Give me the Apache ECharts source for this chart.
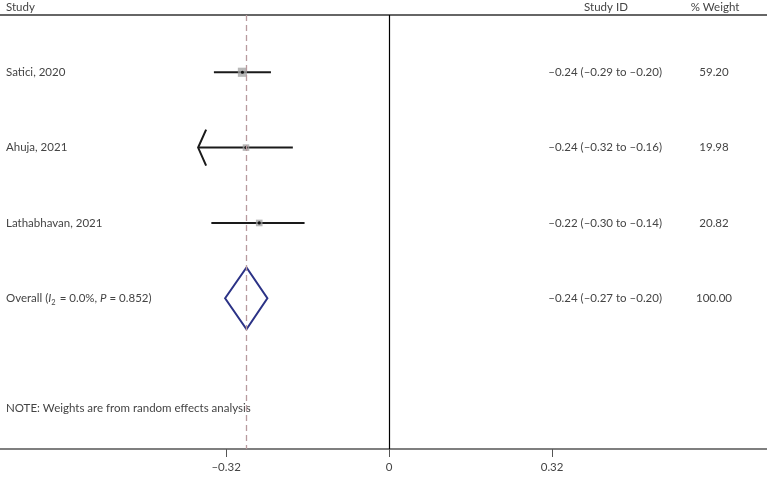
<!DOCTYPE html>
<html>
<head>
<meta charset="utf-8">
<style>
html,body{margin:0;padding:0;background:#fff;}
#chart{width:767px;height:477px;}
</style>
<script src="https://cdn.jsdelivr.net/npm/echarts@6/dist/echarts.min.js"></script>
</head>
<body>
<div id="chart"></div>
<script>
// ---- data ----
const headers = ['Study', 'Study ID', '% Weight'];
const studies = ['Satici, 2020', 'Ahuja, 2021', 'Lathabhavan, 2021'];
const effectTexts = ['–0.24 (–0.29 to –0.20)', '–0.24 (–0.32 to –0.16)', '–0.22 (–0.30 to –0.14)'];
const weightTexts = ['59.20', '19.98', '20.82'];
const weightValues = [59.20, 19.98, 20.82];
const estimates = [-0.288, -0.281, -0.255];
const lowerCI = [-0.344, -0.375, -0.349];
const upperCI = [-0.232, -0.189, -0.166];
const lowerClipped = [0, 1, 0];
const studyRows = [1, 2, 3];

const overallEstimate = -0.280;
const overallLower = -0.322;
const overallUpper = -0.239;
const overallRow = 4;
const overallEffectText = '–0.24 (–0.27 to –0.20)';
const overallWeightText = '100.00';

const noteText = 'NOTE: Weights are from random effects analysis';
const noteRow = 5.46;

const xTickValues = [-0.32, 0, 0.32];
const xTickLabels = ['–0.32', '0', '0.32'];

// ---- styling ----
const FONT = 'Lato';
const FS = 11.5;
const TXT = '#444';

const studyData = studies.map((s, i) => [estimates[i], lowerCI[i], upperCI[i], studyRows[i], weightValues[i], lowerClipped[i]]);

const textRows = [];
studies.forEach((s, i) => textRows.push({ row: studyRows[i], name: s, eff: effectTexts[i], w: weightTexts[i] }));
textRows.push({ row: overallRow, name: 'overall', eff: overallEffectText, w: overallWeightText });
textRows.push({ row: noteRow, name: noteText, eff: '', w: '' });

const chart = echarts.init(document.getElementById('chart'), null, { renderer: 'canvas' });

const xMin = -0.764, xMax = 0.742;

const option = {
  animation: false,
  backgroundColor: '#fff',
  grid: { left: 0, right: 0, top: 15, bottom: 28, containLabel: false },
  xAxis: [{
    type: 'value', min: xMin, max: xMax, position: 'bottom',
    axisLine: { show: true, onZero: false, lineStyle: { color: '#555', width: 1.5 } },
    axisTick: { show: true, customValues: xTickValues, length: 8, lineStyle: { color: '#555', width: 1 } },
    axisLabel: {
      show: true, customValues: xTickValues, margin: 12,
      fontFamily: FONT, fontSize: FS, color: TXT,
      formatter: v => { const k = xTickValues.findIndex(t => Math.abs(t - v) < 1e-9); return k >= 0 ? xTickLabels[k] : ''; }
    },
    splitLine: { show: false }
  }, {
    type: 'value', min: xMin, max: xMax, position: 'top',
    axisLine: { show: true, onZero: false, lineStyle: { color: '#333', width: 1.6 } },
    axisTick: { show: false }, axisLabel: { show: false }, splitLine: { show: false }
  }],
  yAxis: {
    type: 'value', inverse: true, min: 0.24, max: 6.0, show: false
  },
  graphic: [
    { type: 'text', left: 6, top: 1, style: { text: headers[0], fontFamily: FONT, fontSize: FS, fill: TXT } },
    { type: 'text', x: 606, y: 1, style: { text: headers[1], fontFamily: FONT, fontSize: FS, fill: TXT, textAlign: 'center' } },
    { type: 'text', x: 715, y: 1, style: { text: headers[2], fontFamily: FONT, fontSize: FS, fill: TXT, textAlign: 'center' } }
  ],
  series: [
    {
      name: 'zero', type: 'line', data: [], xAxisIndex: 0,
      markLine: {
        silent: true, symbol: 'none', label: { show: false },
        lineStyle: { color: '#000', width: 1.2, type: 'solid' },
        data: [{ xAxis: 0 }]
      }
    },
    {
      name: 'overallLine', type: 'line', data: [], xAxisIndex: 0,
      markLine: {
        silent: true, symbol: 'none', label: { show: false },
        lineStyle: { color: '#b89a9e', width: 1.3, type: [6, 4] },
        data: [{ xAxis: overallEstimate }]
      }
    },
    {
      name: 'studies', type: 'custom', xAxisIndex: 0,
      data: studyData,
      encode: { x: [0, 1, 2], y: 3 },
      renderItem: function (params, api) {
        const y = api.value(3);
        const p = api.coord([api.value(0), y]);
        const l = api.coord([api.value(1), y]);
        const h = api.coord([api.value(2), y]);
        const side = 3 + 0.8 * Math.sqrt(api.value(4));
        const children = [
          { type: 'line', shape: { x1: l[0], y1: l[1], x2: h[0], y2: h[1] }, style: { stroke: '#1a1a1a', lineWidth: 2 } }
        ];
        if (api.value(5)) {
          children.push({ type: 'polyline', shape: { points: [[l[0] + 8, l[1] - 18], [l[0], l[1]], [l[0] + 8, l[1] + 18]] }, style: { stroke: '#1a1a1a', lineWidth: 2, fill: 'none' } });
        }
        children.push({ type: 'rect', shape: { x: p[0] - side / 2, y: p[1] - side / 2, width: side, height: side }, style: { fill: 'rgba(160,160,160,0.75)' } });
        children.push({ type: 'circle', shape: { cx: p[0], cy: p[1], r: 1.6 }, style: { fill: '#111' } });
        return { type: 'group', children: children };
      }
    },
    {
      name: 'overall', type: 'custom', xAxisIndex: 0,
      data: [[overallEstimate, overallLower, overallUpper, overallRow]],
      encode: { x: [0, 1, 2], y: 3 },
      renderItem: function (params, api) {
        const y = api.value(3);
        const c = api.coord([api.value(0), y]);
        const l = api.coord([api.value(1), y]);
        const h = api.coord([api.value(2), y]);
        const hh = api.size([0, 0.41])[1];
        return {
          type: 'polygon',
          shape: { points: [[l[0], c[1]], [c[0], c[1] - hh], [h[0], c[1]], [c[0], c[1] + hh]] },
          style: { stroke: '#2b3286', lineWidth: 2, fill: 'none' }
        };
      }
    },
    {
      name: 'texts', type: 'custom', xAxisIndex: 0,
      data: textRows.map(r => [0, r.row]),
      encode: { y: 1 },
      renderItem: function (params, api) {
        const r = textRows[params.dataIndex];
        const yy = api.coord([0, api.value(1)])[1];
        const children = [];
        if (r.name === 'overall') {
          children.push({
            type: 'text', x: 6, y: yy,
            style: {
              text: '{n|Overall (}{i|I}{s|2}{n| = 0.0%, }{i|P}{n| = 0.852)}',
              verticalAlign: 'middle', textAlign: 'left',
              rich: {
                n: { fontFamily: FONT, fontSize: FS, fill: TXT, lineHeight: 16 },
                i: { fontFamily: FONT, fontSize: FS, fill: TXT, fontStyle: 'italic', lineHeight: 16 },
                s: { fontFamily: FONT, fontSize: 7.5, fill: TXT, lineHeight: 16, padding: [9, 1, 0, 0] }
              }
            }
          });
        } else {
          children.push({ type: 'text', x: 6, y: yy, style: { text: r.name, fontFamily: FONT, fontSize: FS, fill: TXT, verticalAlign: 'middle', textAlign: 'left' } });
        }
        if (r.eff) children.push({ type: 'text', x: 662, y: yy, style: { text: r.eff, fontFamily: FONT, fontSize: FS, fill: TXT, verticalAlign: 'middle', textAlign: 'right' } });
        if (r.w) children.push({ type: 'text', x: 714, y: yy, style: { text: r.w, fontFamily: FONT, fontSize: FS, fill: TXT, verticalAlign: 'middle', textAlign: 'center' } });
        return { type: 'group', children: children };
      }
    }
  ]
};
chart.setOption(option);
</script>
</body>
</html>
